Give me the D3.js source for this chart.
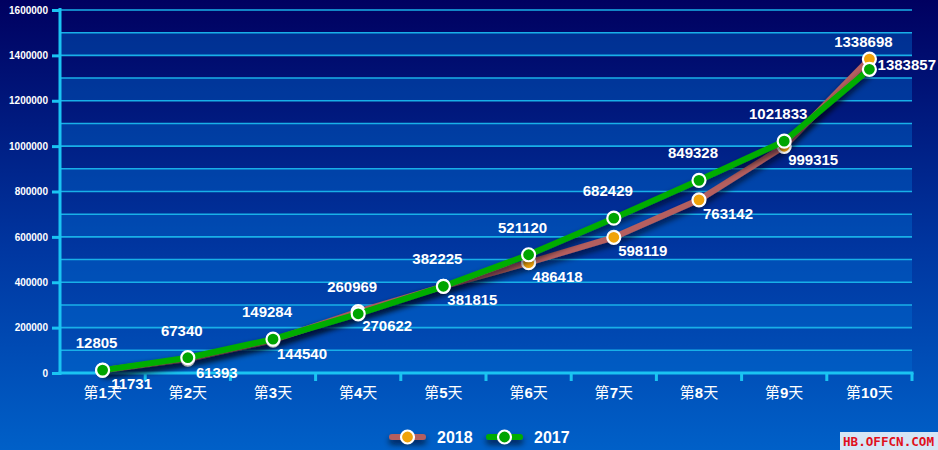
<!DOCTYPE html>
<html><head><meta charset="utf-8">
<script src="https://cdn.jsdelivr.net/npm/d3@7/dist/d3.min.js"></script>
<style>html,body{margin:0;padding:0;background:#000060;}svg{display:block;}</style>
</head><body>
<svg id="chart" width="938" height="450"></svg>
<script>
const categories = ["第1天","第2天","第3天","第4天","第5天","第6天","第7天","第8天","第9天","第10天"];
const values2018 = [11731, 61393, 144540, 270622, 381815, 486418, 598119, 763142, 999315, 1383857];
const values2017 = [12805, 67340, 149284, 260969, 382225, 521120, 682429, 849328, 1021833, 1338698];
const yTicks = [0, 200000, 400000, 600000, 800000, 1000000, 1200000, 1400000, 1600000];
const seriesNames = ["2018", "2017"];

const W = 938, H = 450;
const svg = d3.select("#chart");
const defs = svg.append("defs");
const grad = defs.append("linearGradient").attr("id","bg").attr("x1",0).attr("y1",0).attr("x2",0).attr("y2",1);
grad.append("stop").attr("offset","0%").attr("stop-color","#000060");
grad.append("stop").attr("offset","55%").attr("stop-color","#0036a0");
grad.append("stop").attr("offset","100%").attr("stop-color","#0060c8");
const f = defs.append("filter").attr("id","shadow").attr("filterUnits","userSpaceOnUse")
  .attr("x",0).attr("y",0).attr("width",W).attr("height",H);
f.append("feDropShadow").attr("dx",0).attr("dy",4).attr("stdDeviation",3).attr("flood-color","#000018").attr("flood-opacity",0.75);

svg.append("rect").attr("width",W).attr("height",H).attr("fill","url(#bg)");

const x = d3.scaleBand().domain(categories).range([60, 912]);
const y = d3.scaleLinear().domain([0, 1600000]).range([373, 10]);
const cx = d => x(d) + x.bandwidth()/2;

// bands
const bandVals = d3.range(0, 1600000, 200000);
svg.append("g").selectAll("rect").data(bandVals).join("rect")
  .attr("x", 60).attr("width", 852)
  .attr("y", d => y(d + 100000)).attr("height", d => y(d) - y(d + 100000))
  .attr("fill", "rgba(0,110,210,0.4)");

// grid lines
const gridVals = d3.range(100000, 1600001, 100000);
svg.append("g").selectAll("line").data(gridVals).join("line")
  .attr("x1", 60).attr("x2", 912).attr("y1", d => y(d)).attr("y2", d => y(d))
  .attr("stroke", "#18b0e8").attr("stroke-width", 1.6);

// y axis
const yAxis = d3.axisLeft(y).tickValues(yTicks).tickSize(8).tickPadding(4).tickFormat(d3.format("d"));
const gy = svg.append("g").attr("transform","translate(60,0)").call(yAxis);
gy.select(".domain").remove();
gy.selectAll(".tick line").attr("stroke","#1ac4f2").attr("stroke-width",3);
gy.selectAll(".tick text").attr("fill","#fff").attr("font-family","Liberation Sans, Arial, sans-serif")
  .attr("font-weight","bold").attr("font-size","10px");
svg.append("line").attr("x1",60).attr("x2",60).attr("y1",8).attr("y2",375)
  .attr("stroke","#1ac4f2").attr("stroke-width",3);

// x axis
svg.append("line").attr("x1",58.5).attr("x2",913.5).attr("y1",373).attr("y2",373)
  .attr("stroke","#1ac4f2").attr("stroke-width",3);
const bounds = categories.map(c => x(c) + x.bandwidth());
svg.append("g").selectAll("line").data(bounds).join("line")
  .attr("x1", d => d).attr("x2", d => d).attr("y1", 373).attr("y2", 381)
  .attr("stroke","#1ac4f2").attr("stroke-width",3);
const xl = svg.append("g").selectAll("text").data(categories).join("text")
  .attr("x", d => cx(d)).attr("y", 398).attr("text-anchor","middle")
  .attr("fill","#fff").attr("font-size","15px")
  .attr("font-family","Liberation Sans, Noto Sans CJK SC, sans-serif");
xl.each(function(d){
  const t = d3.select(this);
  const m = d.match(/^(\D+)(\d+)(\D+)$/);
  t.append("tspan").text(m[1]);
  t.append("tspan").attr("font-weight","bold").text(m[2]);
  t.append("tspan").text(m[3]);
});

const line = d3.line().x((d,i) => cx(categories[i])).y(d => y(d));
const series = [
  {name: seriesNames[0], values: values2018, line: "#b55f5f", fill: "#f0a30a"},
  {name: seriesNames[1], values: values2017, line: "#00ad00", fill: "#00a400"}
];
series.forEach(s => {
  svg.append("path").datum(s.values).attr("d", line)
    .attr("fill","none").attr("stroke", s.line).attr("stroke-width", 6)
    .attr("stroke-linejoin","round").attr("filter","url(#shadow)");
  svg.append("g").selectAll("circle").data(s.values).join("circle")
    .attr("cx", (d,i) => cx(categories[i])).attr("cy", d => y(d)).attr("r", 6.5)
    .attr("fill", s.fill).attr("stroke","#fff").attr("stroke-width",2.2);
});

// labels
const lab = {fill:"#fff", ff:"Liberation Sans, Arial, sans-serif"};
svg.append("g").selectAll("text").data(values2017).join("text")
  .attr("x", (d,i) => cx(categories[i]) - 6).attr("y", d => y(d) - 22)
  .attr("text-anchor","middle").attr("fill",lab.fill).attr("font-family",lab.ff)
  .attr("font-weight","bold").attr("font-size","15px").text(d => d);
const last = values2018.length - 1;
svg.append("g").selectAll("text").data(values2018).join("text")
  .attr("x", (d,i) => i === last ? W - 2 : cx(categories[i]) + 29)
  .attr("y", (d,i) => i === last ? y(d) + 11 : y(d) + 19)
  .attr("text-anchor", (d,i) => i === last ? "end" : "middle")
  .attr("fill",lab.fill).attr("font-family",lab.ff)
  .attr("font-weight","bold").attr("font-size","15px").text(d => d);

// legend
const leg = svg.append("g");
const legX = [389, 486];
series.forEach((s, i) => {
  const lx = legX[i];
  leg.append("rect").attr("x", lx).attr("y", 434).attr("width", 37).attr("height", 6).attr("rx", 3)
    .attr("fill", s.line).attr("filter","url(#shadow)");
  leg.append("circle").attr("cx", lx + 18.5).attr("cy", 437).attr("r", 6.5)
    .attr("fill", s.fill).attr("stroke","#fff").attr("stroke-width",2.2);
  leg.append("text").attr("x", lx + 48).attr("y", 443).attr("fill","#fff")
    .attr("font-family",lab.ff).attr("font-weight","bold").attr("font-size","16px").text(s.name);
});

// watermark
svg.append("rect").attr("x",840).attr("y",432).attr("width",98).attr("height",18).attr("fill","#d6e6f6");
svg.append("text").attr("x",843).attr("y",446).attr("fill","#e0101c")
  .attr("font-family","DejaVu Sans Mono, monospace").attr("font-weight","bold").attr("font-size","12px")
  .attr("textLength",91).attr("lengthAdjust","spacingAndGlyphs").text("HB.OFFCN.COM");
</script>
</body></html>
